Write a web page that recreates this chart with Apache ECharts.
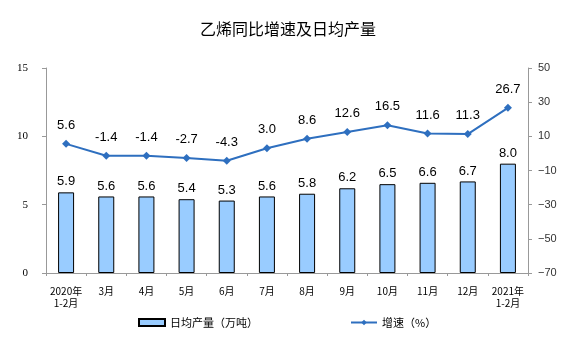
<!DOCTYPE html>
<html><head><meta charset="utf-8">
<script src="https://cdn.jsdelivr.net/npm/echarts@6/dist/echarts.min.js"></script>
<style>html,body{margin:0;padding:0;background:#fff}#c{width:576px;height:358px}</style>
</head><body><div id="c"></div>
<script>
const categories = ['2020年\n1-2月','3月','4月','5月','6月','7月','8月','9月','10月','11月','12月','2021年\n1-2月'];
const output = [5.9,5.6,5.6,5.4,5.3,5.6,5.8,6.2,6.5,6.6,6.7,8.0];
const growth = [5.6,-1.4,-1.4,-2.7,-4.3,3.0,8.6,12.6,16.5,11.6,11.3,26.7];
const leftTicks = [0,5,10,15];
const rightTicks = [-70,-50,-30,-10,10,30,50];

const chart = echarts.init(document.getElementById('c'));
chart.setOption({
  animation:false,
  title:{text:'乙烯同比增速及日均产量',left:'center',top:16,textStyle:{fontSize:16,fontWeight:'normal',color:'#000',fontFamily:'Noto Sans CJK SC'}},
  legend:{left:133,bottom:25,itemGap:92,itemWidth:26,itemHeight:7,textStyle:{fontSize:11,color:'#000',fontFamily:'Noto Sans CJK SC'},
    data:[{name:'日均产量（万吨）',icon:'rect'},{name:'增速（%）'}]},
  grid:{left:46,right:48,top:68,bottom:85},
  xAxis:{type:'category',data:categories,
    axisLine:{lineStyle:{color:'#999'}},
    axisTick:{show:true,length:3,lineStyle:{color:'#999'}},
    axisLabel:{interval:0,fontSize:10,color:'#000',lineHeight:12,margin:12,fontFamily:'Noto Sans CJK SC'}},
  yAxis:[
    {type:'value',min:leftTicks[0],max:leftTicks[leftTicks.length-1],interval:5,
     axisLine:{show:true,lineStyle:{color:'#999'}},axisTick:{show:true,length:4,lineStyle:{color:'#999'}},
     splitLine:{show:false},axisLabel:{fontSize:11,color:'#000',fontFamily:'Liberation Serif',margin:18}},
    {type:'value',min:rightTicks[0],max:rightTicks[rightTicks.length-1],interval:20,
     axisLine:{show:true,lineStyle:{color:'#999'}},axisTick:{show:true,length:4,lineStyle:{color:'#999'}},
     splitLine:{show:false},axisLabel:{fontSize:11,color:'#333',fontFamily:'Liberation Sans',margin:10,
       formatter:v=>String(v).replace('-','−')}}
  ],
  series:[
    {name:'日均产量（万吨）',type:'bar',data:output,barWidth:16,yAxisIndex:0,
     itemStyle:{color:'#99CCFF',borderColor:'#000',borderWidth:1},
     label:{show:true,position:'top',distance:4,fontSize:13,color:'#000',fontFamily:'Liberation Sans',formatter:p=>p.value.toFixed(1)}},
    {name:'增速（%）',type:'line',data:growth,yAxisIndex:1,symbol:'diamond',symbolSize:8,
     lineStyle:{color:'#2E6FBF',width:2},itemStyle:{color:'#2E6FBF'},
     label:{show:true,position:'top',distance:8,fontSize:13,color:'#000',fontFamily:'Liberation Sans',formatter:p=>p.value.toFixed(1)}}
  ]
});
</script></body></html>
